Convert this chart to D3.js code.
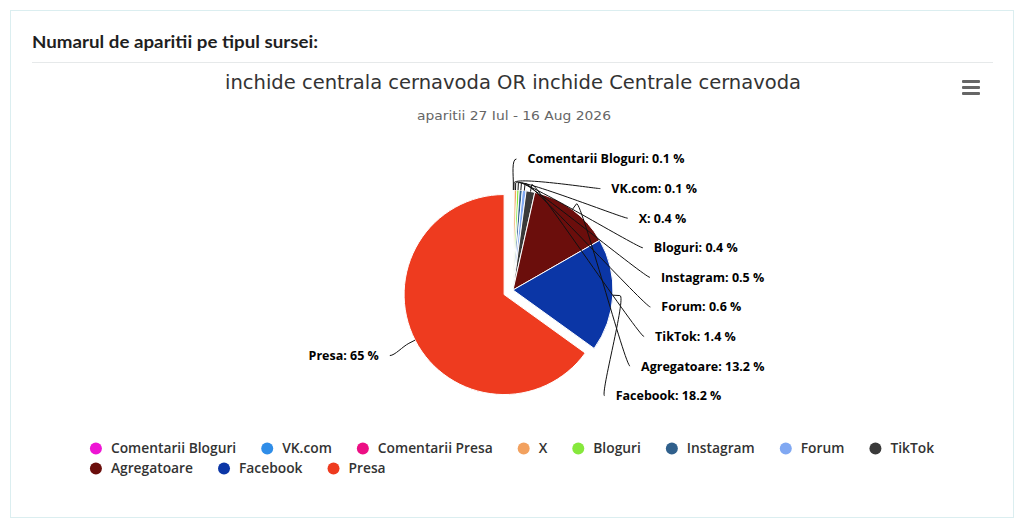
<!DOCTYPE html>
<html>
<head>
<meta charset="utf-8">
<script src="https://cdn.jsdelivr.net/npm/d3@7"></script>
<style>
  html, body { margin: 0; padding: 0; background: #ffffff; }
  svg { display: block; }
</style>
</head>
<body>
<svg id="chart" width="1024" height="527"></svg>
<script>
// ---------------- DATA ----------------
const categories = ["Comentarii Bloguri", "VK.com", "Comentarii Presa", "X", "Bloguri",
                    "Instagram", "Forum", "TikTok", "Agregatoare", "Facebook", "Presa"];
const percentages = [0.1, 0.1, null, 0.4, 0.4, 0.5, 0.6, 1.4, 13.2, 18.2, 65];
const colors = ["#ee14d4", "#2f8de8", "#ec0f84", "#f2a15f", "#86e83c",
                "#30608c", "#80a8f2", "#3a3a3a", "#6b0e0c", "#0b36a6", "#ee3b1f"];
const slicedCategory = "Presa";
const headerText = "Numarul de aparitii pe tipul sursei:";
const titleText = "inchide centrala cernavoda OR inchide Centrale cernavoda";
const subtitleText = "aparitii 27 Iul - 16 Aug 2026";

// ---------------- SETUP ----------------
const svg = d3.select("#chart");

// card
svg.append("rect").attr("x", 10.5).attr("y", 10.5).attr("width", 1003).attr("height", 507)
  .attr("fill", "#fff").attr("stroke", "#dbeef0").attr("stroke-width", 1);

svg.append("text").attr("x", 32).attr("y", 48)
  .attr("font-family", "Lato, Inter, 'Open Sans', sans-serif").attr("font-weight", 700)
  .attr("font-size", 17).attr("fill", "#1f1f1f")
  .attr("textLength", 286).attr("lengthAdjust", "spacingAndGlyphs")
  .text(headerText);

svg.append("line").attr("x1", 32).attr("x2", 993).attr("y1", 62.5).attr("y2", 62.5)
  .attr("stroke", "#e6e9ea").attr("stroke-width", 1);

svg.append("text").attr("x", 513).attr("y", 89).attr("text-anchor", "middle")
  .attr("font-family", "'DejaVu Sans Condensed', 'Liberation Sans Narrow', 'Noto Sans', sans-serif")
  .attr("font-size", 20).attr("fill", "#333")
  .attr("textLength", 576).attr("lengthAdjust", "spacingAndGlyphs")
  .text(titleText);

svg.append("text").attr("x", 514).attr("y", 120).attr("text-anchor", "middle")
  .attr("font-family", "'DejaVu Sans Condensed', 'Liberation Sans Narrow', 'Noto Sans', sans-serif")
  .attr("font-size", 13).attr("fill", "#666")
  .attr("textLength", 194).attr("lengthAdjust", "spacingAndGlyphs")
  .text(subtitleText);

// hamburger menu
const menu = svg.append("g").attr("transform", "translate(962,80)");
[0, 6, 12].forEach(d => menu.append("rect").attr("x", 0).attr("y", d).attr("width", 18)
  .attr("height", 3).attr("rx", 1).attr("fill", "#666"));

// ---------------- PIE ----------------
const cx = 513, cy = 290, r = 100;
const slicedOffset = 10;
const data = categories.map((c, i) => ({ name: c, value: percentages[i], color: colors[i] }));

const pie = d3.pie().sort(null).value(d => d.value || 0).startAngle(0).endAngle(2 * Math.PI);
const arcs = pie(data);
const arc = d3.arc().innerRadius(0).outerRadius(r);

const pieG = svg.append("g").attr("transform", `translate(${cx},${cy})`);

function sliceShift(a) {
  if (a.data.name !== slicedCategory) return [0, 0];
  const m = (a.startAngle + a.endAngle) / 2;
  return [Math.sin(m) * slicedOffset, -Math.cos(m) * slicedOffset];
}

pieG.selectAll("path.slice").data(arcs.filter(a => a.value > 0)).join("path")
  .attr("class", "slice")
  .attr("d", arc)
  .attr("transform", a => `translate(${sliceShift(a)})`)
  .attr("fill", a => a.data.color)
  .attr("stroke", "#fff").attr("stroke-width", 1).attr("stroke-linejoin", "round");

// ---------------- DATA LABELS ----------------
const labelR = 135, labelCy = cy + 4, labelPad = 14, connPad = 3, spacing = 29.6;
const breakR = r + 7;
const fmt = v => (+v.toFixed(1)) + " %";

const shown = arcs.filter(a => a.data.value != null && a.value > 0)
  .map(a => ({ a, mid: (a.startAngle + a.endAngle) / 2 }));
const right = shown.filter(d => d.mid < Math.PI).sort((p, q) => p.mid - q.mid);
const left = shown.filter(d => d.mid >= Math.PI).sort((p, q) => q.mid - p.mid);

function layout(group) {
  let prev = -Infinity;
  group.forEach(d => {
    const natural = labelCy - Math.cos(d.mid) * labelR;
    d.y = Math.max(natural, prev + spacing);
    prev = d.y;
  });
}
layout(right);
layout(left);

const labelG = svg.append("g");
function drawLabels(group, side) {
  group.forEach(d => {
    const dy = d.y - labelCy;
    const off = Math.sqrt(Math.max(0, labelR * labelR - dy * dy));
    const sh = sliceShift(d.a);
    const tx = cx + sh[0] + Math.sin(d.mid) * r, ty = cy + sh[1] - Math.cos(d.mid) * r;
    const bx = cx + sh[0] + Math.sin(d.mid) * breakR, by = cy + sh[1] - Math.cos(d.mid) * breakR;
    const ax = cx + side * (off + connPad), ay = d.y;
    const p = d3.path();
    p.moveTo(ax, ay);
    p.bezierCurveTo(ax - side * 5, ay, 2 * bx - tx, 2 * by - ty, bx, by);
    p.lineTo(tx, ty);
    labelG.append("path").attr("d", p.toString()).attr("fill", "none")
      .attr("stroke", "#111").attr("stroke-width", 1);
    labelG.append("text")
      .attr("x", cx + side * (off + labelPad)).attr("y", d.y).attr("dy", "0.35em")
      .attr("text-anchor", side > 0 ? "start" : "end")
      .attr("font-family", "'Open Sans', sans-serif").attr("font-weight", 700)
      .attr("font-size", 12.5).attr("fill", "#000")
      .text(d.a.data.name + ": " + fmt(d.a.data.value));
  });
}
drawLabels(right, 1);
drawLabels(left, -1);

// ---------------- LEGEND ----------------
const legendG = svg.append("g");
const legendRows = [448.5, 468.5];
const maxRowWidth = 900, symbolToText = 15, itemGap = 31;
const items = data.map(d => {
  const g = legendG.append("g");
  g.append("circle").attr("r", 6).attr("fill", d.color);
  const t = g.append("text").attr("x", symbolToText).attr("dy", "0.35em")
    .attr("font-family", "'Open Sans', sans-serif").attr("font-weight", 600)
    .attr("font-size", 13.8).attr("fill", "#333").text(d.name);
  return { g, w: symbolToText + t.node().getComputedTextLength() };
});
// wrap into rows
const rows = [[]];
let cur = 0;
items.forEach(it => {
  const need = (rows[rows.length - 1].length ? itemGap : 0) + it.w + 6;
  if (cur + need > maxRowWidth && rows[rows.length - 1].length) { rows.push([]); cur = 0; }
  cur += (rows[rows.length - 1].length ? itemGap : 0) + it.w;
  rows[rows.length - 1].push(it);
});
const rowWidths = rows.map(rw => rw.reduce((s, it, i) => s + it.w + (i ? itemGap : 0), 0) + 6);
const boxW = d3.max(rowWidths);
const startX = 512 - boxW / 2 + 6;
rows.forEach((rw, ri) => {
  let x = startX;
  rw.forEach(it => {
    it.g.attr("transform", `translate(${x},${legendRows[ri]})`);
    x += it.w + itemGap;
  });
});
</script>
</body>
</html>
